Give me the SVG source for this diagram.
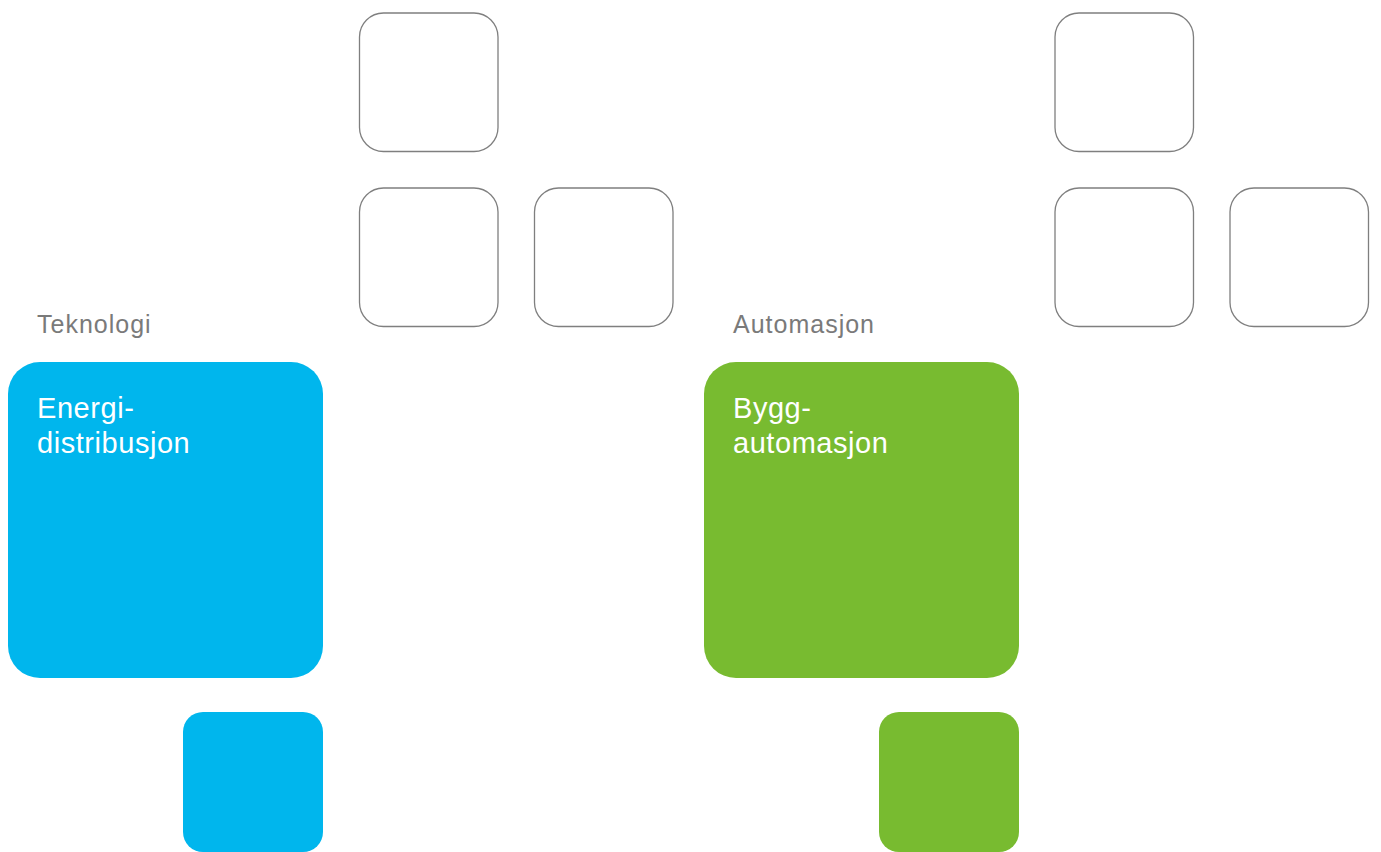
<svg xmlns="http://www.w3.org/2000/svg" width="1381" height="852" viewBox="0 0 1381 852">
<style>
.out{fill:#fff;stroke:#7f7f7f;stroke-width:1.3}
.blue{fill:#00B6ED}
.green{fill:#78BB30}
.lbl{font-family:"Liberation Sans",Arial,sans-serif;font-size:25px;fill:#7a7a7a;letter-spacing:1px}
.ttl{font-family:"Liberation Sans",Arial,sans-serif;font-size:29px;fill:#fff;letter-spacing:0.55px}
</style>
<rect width="1381" height="852" fill="#fff"/>
<g id="outline-left">
<rect class="out" x="359.5" y="13" width="138.5" height="138.5" rx="24"/>
<rect class="out" x="359.5" y="188" width="138.5" height="138.5" rx="24"/>
<rect class="out" x="534.5" y="188" width="138.5" height="138.5" rx="24"/>
</g>
<g id="outline-right">
<rect class="out" x="1055" y="13" width="138.5" height="138.5" rx="24"/>
<rect class="out" x="1055" y="188" width="138.5" height="138.5" rx="24"/>
<rect class="out" x="1230" y="188" width="138.5" height="138.5" rx="24"/>
</g>
<g id="teknologi">
<text class="lbl" x="37" y="333">Teknologi</text>
<rect class="blue" x="8" y="362" width="315" height="316" rx="32"/>
<text class="ttl" x="37" y="418">Energi-</text>
<text class="ttl" x="37" y="453">distribusjon</text>
<rect class="blue" x="183" y="712" width="140" height="140" rx="20"/>
</g>
<g id="automasjon">
<text class="lbl" x="733" y="333">Automasjon</text>
<rect class="green" x="704" y="362" width="315" height="316" rx="32"/>
<text class="ttl" x="733" y="418">Bygg-</text>
<text class="ttl" x="733" y="453">automasjon</text>
<rect class="green" x="879" y="712" width="140" height="140" rx="20"/>
</g>
<g id="connectors"/>
</svg>
